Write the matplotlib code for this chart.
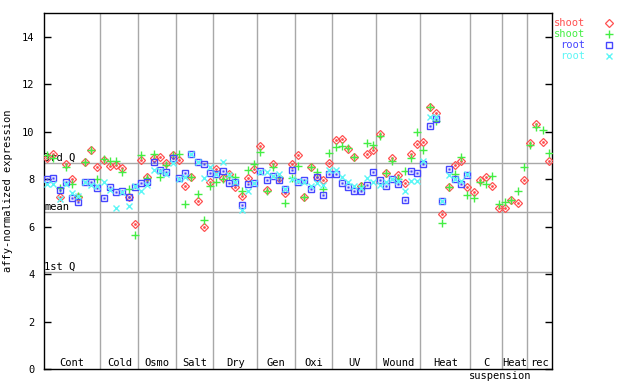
import numpy as np
import matplotlib
matplotlib.use("Agg")
import matplotlib.pyplot as plt
from matplotlib.lines import Line2D

plt.rcParams["font.family"] = "DejaVu Sans Mono"
plt.rcParams["font.size"] = 7.5

# sample groups (number of samples per group)
groups = ["Cont", "Cold", "Osmo", "Salt", "Dry", "Gen", "Oxi", "UV",
          "Wound", "Heat", "C", "Heat", "rec"]
group_sizes = [9, 6, 6, 6, 7, 6, 6, 7, 7, 8, 5, 4, 4]

nan = np.nan
# shoot replicate 1 (red), shoot replicate 2 (green)
shoot_1 = [8.89, 9.07, 7.24, 8.65, 8.02, 7.24, 8.71, 9.24, 8.51,
           8.79, 8.57, 8.61, 8.47, 7.24, 6.10,
           8.79, 8.09, 8.90, 8.93, 8.68, 9.03,
           8.79, 7.72, 8.07, 7.06, 5.98, 7.90,
           8.42, 8.05, 8.21, 7.67, 7.30, 8.05, 8.42,
           9.41, 7.55, 8.65, 8.05, 7.41, 8.64,
           9.03, 7.24, 8.51, 8.09, 7.97, 8.68,
           9.66, 9.70, 9.27, 8.92, 7.69, 9.07, 9.21,
           9.92, 8.26, 8.89, 8.19, 7.83, 9.07, 9.48,
           9.56, 11.03, 10.79, 6.54, 7.67, 8.59, 8.76, 7.67,
           7.46, 7.96, 8.09, 7.70, 6.78,
           6.78, 7.13, 6.99, 7.96,
           9.52, 10.32, 9.56, 8.76]
shoot_2 = [9.03, 8.89, 7.62, 8.51, 7.81, 7.27, 8.71, 9.24, 8.00,
           8.86, 8.75, 8.75, 8.30, 7.58, 5.63,
           9.03, 8.05, 9.06, 8.09, 8.60, 9.00,
           9.06, 6.96, 8.11, 7.38, 6.29, 7.72,
           7.90, 8.00, 8.14, 8.09, 7.52, 8.40, 8.64,
           9.14, 7.52, 8.51, 8.11, 6.99, 8.05,
           8.57, 7.24, 8.51, 8.30, 7.60, 9.10,
           9.35, 9.41, 9.31, 8.92, 7.69, 9.52, 9.45,
           9.83, 8.26, 8.76, 8.02, 8.33, 8.89, 10.00,
           9.23, 11.04, 10.45, 6.16, 7.67, 8.21, 8.93, 7.34,
           7.20, 7.88, 7.79, 8.14, 6.96,
           7.05, 7.12, 7.51, 8.51,
           9.44, 10.20, 10.07, 9.10]
# root replicate 1 (blue), root replicate 2 (cyan)
root_1 = [8.02, 8.05, 7.54, 7.90, 7.20, 7.05, 7.86, 7.86, 7.62,
          7.20, 7.65, 7.45, 7.52, 7.24, 7.65,
          7.83, 7.90, 8.72, 8.40, 8.30, 8.89,
          8.05, 8.26, 9.05, 8.71, 8.64, 8.26,
          8.21, 8.33, 7.85, 7.90, 6.92, 7.79, 7.83,
          8.33, 7.96, 8.14, 7.95, 7.58, 8.40,
          7.90, 7.95, 7.60, 8.09, 7.34, 8.23,
          8.23, 7.83, 7.67, 7.52, 7.51, 7.76, 8.30,
          7.97, 7.71, 8.00, 7.79, 7.12, 8.35, 8.26,
          8.64, 10.24, 10.54, 7.06, 8.42, 7.99, 7.79, 8.16,
          nan, nan, nan, nan, nan,
          nan, nan, nan, nan,
          nan, nan, nan, nan]
root_2 = [7.79, 7.79, 7.17, 7.81, 7.41, 7.27, 7.86, 7.74, 7.69,
          7.90, 7.55, 6.78, 7.45, 6.88, 7.69,
          7.48, 7.76, 8.40, 8.33, 8.21, 8.68,
          8.02, 8.11, 9.05, 8.71, 8.05, 8.51,
          8.21, 8.71, 8.19, 7.90, 6.71, 7.52, 7.83,
          8.30, 8.30, 8.14, 8.21, 7.58, 8.00,
          7.93, 7.87, 7.69, 7.83, 7.76, 8.37,
          8.37, 8.09, 7.87, 7.72, 7.62, 8.05, 7.90,
          7.76, 7.90, 8.00, 7.93, 7.52, 7.93, 7.93,
          8.78, 10.60, 10.63, 7.06, 8.17, 7.99, 7.93, 8.21,
          nan, nan, nan, nan, nan,
          nan, nan, nan, nan,
          nan, nan, nan, nan]

q3, mean, q1 = 8.68, 6.61, 4.08

red, green, blue, cyan = "#ff5050", "#44ee44", "#4646ff", "#5cf6f6"
grid_c = "#a8a8a8"

fig = plt.figure(figsize=(6.4, 3.84), dpi=100)
ax = fig.add_axes([44 / 640, 15 / 384, 508 / 640, 356 / 384])

n = len(shoot_1)
x = np.arange(1, n + 1)

# quartile / mean lines
for val, lab in [(q3, "3rd Q"), (mean, "mean"), (q1, "1st Q")]:
    ax.axhline(val, color=grid_c, lw=1, zorder=1)
    ax.text(0.55, val, lab, ha="left", va="bottom", fontsize=7.5, zorder=2)

# group separators and labels
bounds = np.cumsum(group_sizes)
start = 0
for g, b in zip(groups, bounds):
    if b < n:
        ax.axvline(b + 0.5, color=grid_c, lw=1, zorder=1)
    ax.text((start + b) / 2 + 0.5, 0.12, g, ha="center", va="baseline",
            fontsize=7.5)
    start = b
ax.text(68.3, -0.42, "suspension", ha="left", va="baseline",
        fontsize=7.5, clip_on=False)

ax.plot(x, shoot_1, ls="none", marker="D", ms=3.6, mfc="none", mec=red, mew=0.9, zorder=3)
ax.plot(x, shoot_1, ls="none", marker="o", ms=1.0, mfc=red, mec=red, zorder=3)
ax.plot(x, shoot_2, ls="none", marker="+", ms=6, mec=green, mew=1.0, zorder=3)
ax.plot(x, root_1, ls="none", marker="s", ms=5, mfc="none", mec=blue, mew=1.0, zorder=3)
ax.plot(x, root_1, ls="none", marker="s", ms=1.2, mfc=blue, mec=blue, mew=0.3, zorder=3)
ax.plot(x, root_2, ls="none", marker="x", ms=4.5, mec=cyan, mew=1.0, zorder=3)

ax.set_xlim(0.5, n + 0.5)
ax.set_ylim(0, 15)
ax.set_xticks([])
ax.set_yticks(range(0, 15, 2))
ax.tick_params(axis="y", direction="in", length=5, width=1, left=True,
               right=True, labelsize=7.5, pad=7)
for s in ax.spines.values():
    s.set_linewidth(1)
    s.set_color("black")
ax.set_ylabel("affy-normalized expression", fontsize=7.5, labelpad=6)

# legend outside on the right
legend_rows = [("shoot", red), ("shoot", green), ("root", blue), ("root", cyan)]
marker_styles = [dict(marker="D", ms=3.6, mfc="none", mec=red, mew=0.9),
                 dict(marker="+", ms=6, mec=green, mew=1.0),
                 dict(marker="s", ms=5, mfc="none", mec=blue, mew=1.0),
                 dict(marker="x", ms=4.5, mec=cyan, mew=1.0)]
for k, ((lab, col), ms) in enumerate(zip(legend_rows, marker_styles)):
    yy = 1 - (23.3 + 11 * k) / 384
    fig.text(585 / 640, yy, lab, color=col, ha="right", va="center", fontsize=7.5)
    fig.add_artist(Line2D([609 / 640], [yy], transform=fig.transFigure,
                          ls="none", **ms))

fig.savefig("out.png", dpi=100)
